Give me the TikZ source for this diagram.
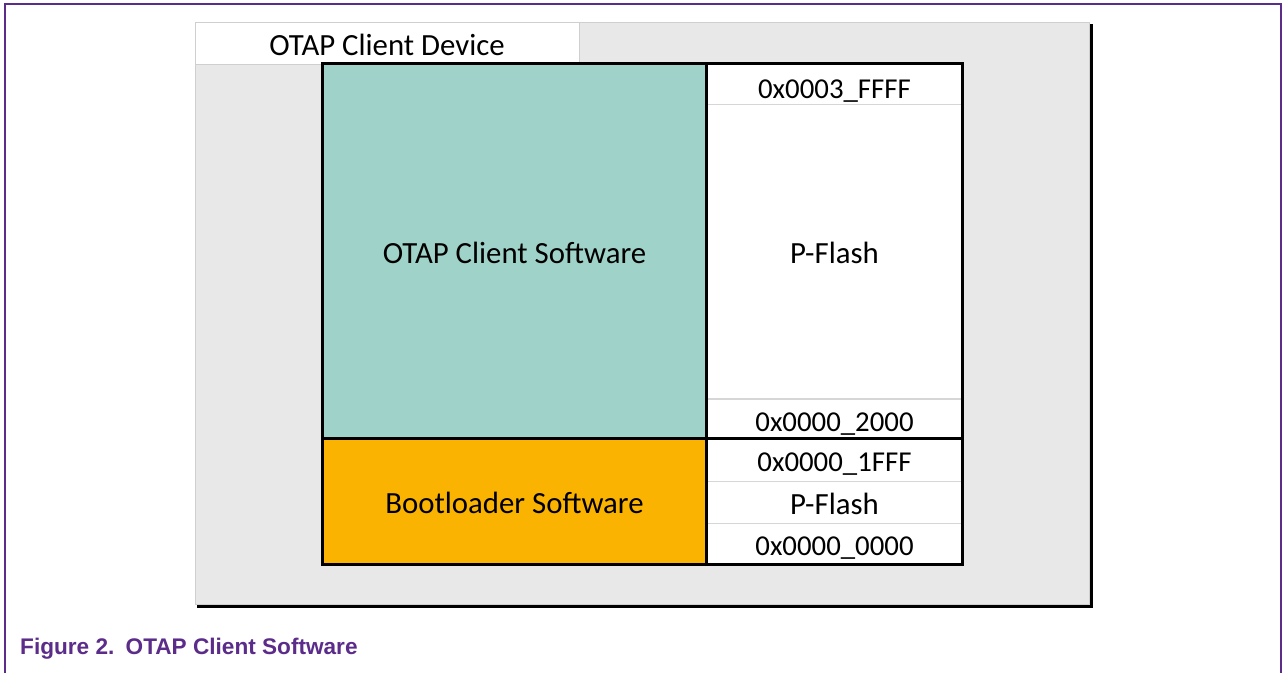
\documentclass[tikz,border=0pt]{standalone}
\usepackage{fontspec}
\setmainfont{Carlito}
\newfontfamily\captionface{Liberation Sans}
\definecolor{framepurple}{HTML}{5B2C8A}
\definecolor{panelgray}{HTML}{E8E8E8}
\definecolor{paneledge}{HTML}{CFCFCF}
\definecolor{gridgray}{HTML}{D6D6D6}
\definecolor{tealfill}{HTML}{9FD3C9}
\definecolor{orangefill}{HTML}{F9B300}
\begin{document}
\begin{tikzpicture}[x=1pt,y=-1pt,
  cell/.style={anchor=north west, inner sep=0pt, outer sep=0pt, draw=none,
    font=\fontsize{30.8}{32}\selectfont, text height=24pt, text depth=0pt, align=center},
  hexcell/.style={cell, fill=white, minimum width=256pt,
    font=\fontsize{28.8}{30}\selectfont, text height=23pt},
  memcell/.style={cell, fill=white, minimum width=256pt},
  gridline/.style={draw=gridgray, line width=1.4pt},
  boxline/.style={draw=black, line width=3pt},
  framestroke/.style={draw=framepurple, line width=2.5pt}]
\useasboundingbox (0,0) rectangle (1283,673);
\fill[white] (0,0) rectangle (1283,673);

% page frame (open at the bottom)
\draw[framestroke] (5,673) -- (5,4) -- (1281,4) -- (1281,673);

% device panel with its dark drop edge
\fill[black] (197,24) rectangle (1092.5,608);
\fill[panelgray, draw=paneledge, line width=1pt] (195,22) rectangle (1089,604);

% panel title cell
\node[cell, fill=white, draw=paneledge, line width=1pt,
  minimum width=384pt, minimum height=42pt] (title) at (195,22) {OTAP Client Device};

% software blocks
\node[cell, fill=tealfill, minimum width=384pt, minimum height=375pt] (app) at (322.5,63.5) {OTAP Client Software};
\node[cell, fill=orangefill, minimum width=384pt, minimum height=125.5pt] (boot) at (322.5,438.5) {Bootloader Software};

% memory map column
\node[hexcell, minimum height=41pt, text height=29pt] (r1) at (706.5,63.5) {0x0003\_FFFF};
\node[memcell, minimum height=294.5pt] (r2) at (706.5,104.5) {P-Flash};
\node[hexcell, minimum height=39.5pt, text height=26pt] (r3) at (706.5,399) {0x0000\_2000};
\node[hexcell, minimum height=43pt] (r4) at (706.5,438.5) {0x0000\_1FFF};
\node[memcell, minimum height=42pt] (r5) at (706.5,481.5) {P-Flash};
\node[hexcell, minimum height=40.5pt] (r6) at (706.5,523.5) {0x0000\_0000};

% thin separators inside each region
\draw[gridline] (r1.south west) -- (r1.south east);
\draw[gridline] (r2.south west) -- (r2.south east);
\draw[gridline] (r4.south west) -- (r4.south east);
\draw[gridline] (r5.south west) -- (r5.south east);

% heavy outlines
\draw[boxline] (app.north west) rectangle (r6.south east);
\draw[boxline] (app.north east) -- (boot.south east);
\draw[boxline] (boot.north west) -- (r4.north east);

% caption
\node[anchor=base west, inner sep=0pt, text=framepurple,
  font=\captionface\bfseries\fontsize{22.6}{23}\selectfont] (caption) at (20,654)
  {Figure 2.\hspace{0.5em}OTAP Client Software};
\end{tikzpicture}
\end{document}
